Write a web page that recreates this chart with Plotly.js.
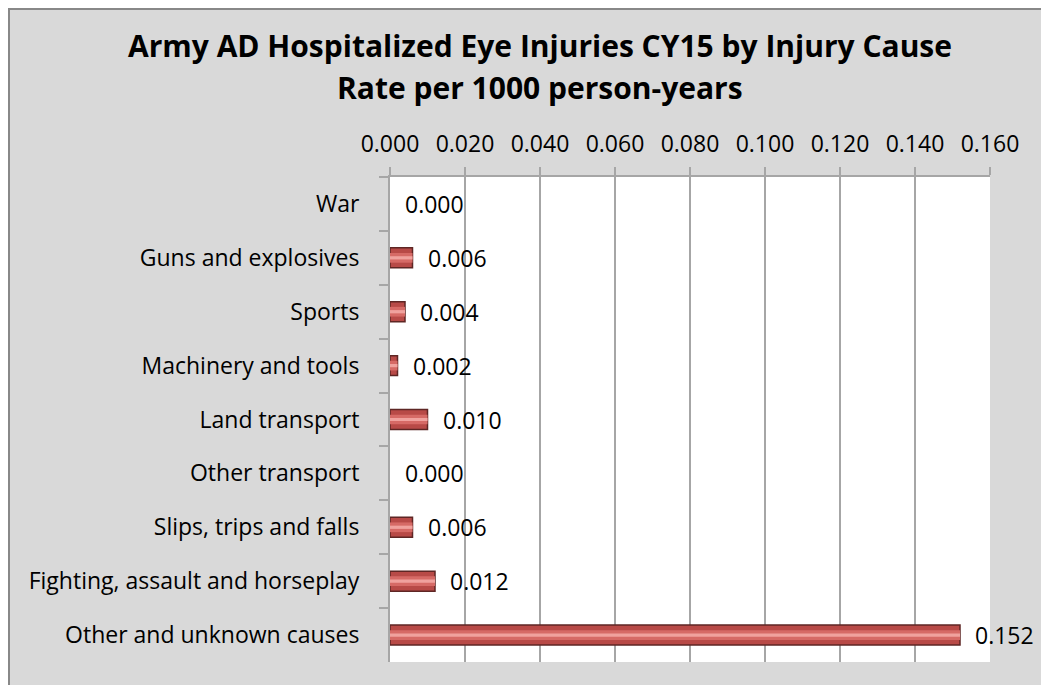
<!DOCTYPE html>
<html><head><meta charset="utf-8">
<script src="https://cdn.plot.ly/plotly-3.0.1.min.js"></script>
<style>
html,body{margin:0;padding:0;background:#fff;width:1041px;height:685px;overflow:hidden;}
#wrap{position:absolute;left:8px;top:8px;width:1033px;height:677px;border-left:2px solid #888;border-top:2px solid #888;background:#d9d9d9;}
#chart{width:1031px;height:675px;}
</style></head>
<body><div id="wrap"><div id="chart"></div></div>
<script>
const categories = ["War","Guns and explosives","Sports","Machinery and tools","Land transport","Other transport","Slips, trips and falls","Fighting, assault and horseplay","Other and unknown causes"];
const rates = [0.000,0.006,0.004,0.002,0.010,0.000,0.006,0.012,0.152];
const tickVals = [0,0.02,0.04,0.06,0.08,0.1,0.12,0.14,0.16];
const tickText = ["0.000","0.020","0.040","0.060","0.080","0.100","0.120","0.140","0.160"];
const titleLine1 = "Army AD Hospitalized Eye Injuries CY15 by Injury Cause";
const titleLine2 = "Rate per 1000 person-years";

const F = "'Open Sans', sans-serif";
const lineW = rates.map(v => v > 0 ? 1.5 : 0);
const traces = [
  {type:'bar', orientation:'h', y:categories, x:rates, width:0.37,
   marker:{color:'#b84a47', line:{color:'#5e2624', width:lineW}}, hoverinfo:'x'},
  {type:'bar', orientation:'h', y:categories, x:rates, width:0.18,
   marker:{color:'#d66a66', line:{width:0}}, hoverinfo:'skip'},
  {type:'bar', orientation:'h', y:categories, x:rates, width:0.06,
   marker:{color:'#f0a29e', line:{width:0}}, hoverinfo:'skip'}
];
const annotations = categories.map((c,i)=>({
  x:rates[i], y:c, xref:'x', yref:'y', text:rates[i].toFixed(3),
  showarrow:false, xanchor:'left', xshift:13, font:{family:F,size:23,color:'#000'}
}));
annotations.push({x:0.25, y:1, xref:'paper', yref:'paper', xanchor:'center', yanchor:'middle', yshift:90,
  text:'<b>'+titleLine2+'</b>', showarrow:false, font:{family:F,size:30,color:'#000'}});
const layout = {
  width:1031, height:675,
  paper_bgcolor:'#d9d9d9', plot_bgcolor:'#ffffff',
  margin:{l:380, r:51, t:167, b:23},
  barmode:'overlay', showlegend:false,
  title:{text:'<b>'+titleLine1+'</b>', x:530/1031, xanchor:'center', xref:'container',
         y:1-26/675, yanchor:'top', font:{family:F,size:30,color:'#000'}},
  xaxis:{side:'top', range:[0,0.16], tickvals:tickVals, ticktext:tickText,
         showgrid:true, gridcolor:'#a6a6a6', gridwidth:2, ticks:'outside', ticklen:8, tickwidth:2,
         tickcolor:'#a6a6a6', showline:true, linecolor:'#a6a6a6', linewidth:2, zeroline:false,
         ticklabelstandoff:6,
         tickfont:{family:F,size:23,color:'#000'}, fixedrange:true},
  yaxis:{autorange:'reversed', type:'category', ticks:'outside', tickson:'boundaries', ticklen:9,
         tickwidth:2, tickcolor:'#a6a6a6', showline:true, linecolor:'#a6a6a6', linewidth:2,
         showgrid:false, ticklabelstandoff:24,
         tickfont:{family:F,size:23,color:'#000'}, fixedrange:true},
  annotations:annotations
};
Plotly.newPlot('chart', traces, layout, {displayModeBar:false, staticPlot:true});
</script></body></html>
